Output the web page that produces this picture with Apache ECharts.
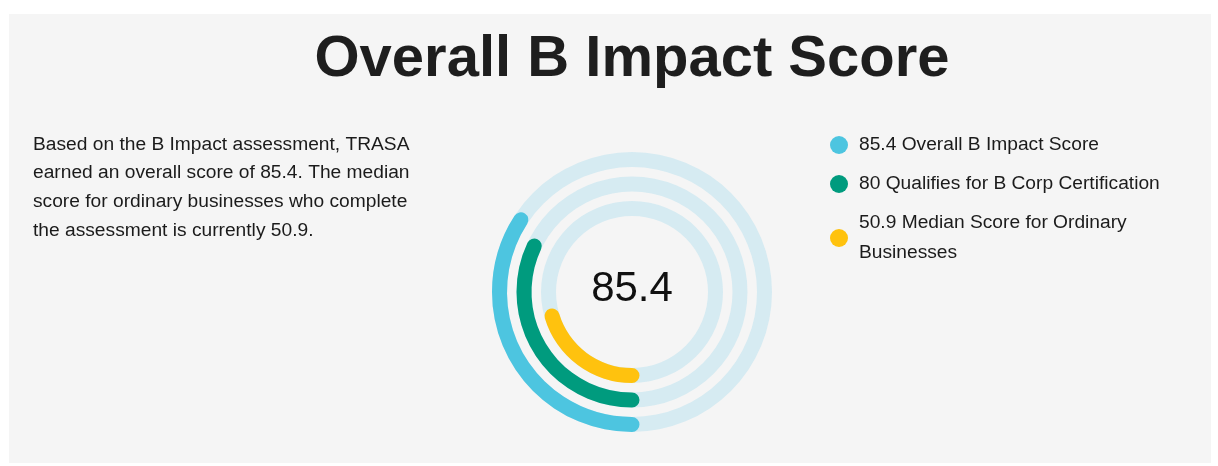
<!DOCTYPE html>
<html>
<head>
<meta charset="utf-8">
<script src="https://cdn.jsdelivr.net/npm/echarts@6/dist/echarts.min.js"></script>
<style>
  html, body { margin: 0; padding: 0; background: #ffffff; }
  #chart { width: 1218px; height: 466px; }
</style>
</head>
<body>
<div id="chart"></div>
<script>
// ---- data ----
const titleText = 'Overall B Impact Score';
const descriptionLines = [
  'Based on the B Impact assessment, TRASA',
  'earned an overall score of 85.4. The median',
  'score for ordinary businesses who complete',
  'the assessment is currently 50.9.'
];
// rings from inner to outer
const categories = ['Median Score for Ordinary Businesses', 'Qualifies for B Corp Certification', 'Overall B Impact Score'];
const scores = [50.9, 80, 85.4];
const colors = ['#ffc20e', '#009b7e', '#4dc5e0'];
const scoreMax = 250;
const centerValue = 85.4;
// legend order (top to bottom) = outer to inner
const legendOrder = [2, 1, 0];

const FONT = '"Liberation Sans", Arial, sans-serif';
const TEXT = '#1b1b1b';

const chart = echarts.init(document.getElementById('chart'), null, { renderer: 'canvas' });

const hiddenAxis = {
  axisLine: { show: false }, axisTick: { show: false },
  axisLabel: { show: false }, splitLine: { show: false }
};

const series = [{
  name: 'track',
  type: 'bar',
  coordinateSystem: 'polar',
  polarIndex: 1,
  data: categories.map(() => scoreMax),
  barWidth: 15,
  z: 1,
  itemStyle: { color: '#d6ebf2' },
  silent: true,
  animation: false
}];
legendOrder.forEach(i => {
  series.push({
    name: scores[i] + ' ' + categories[i],
    type: 'bar',
    coordinateSystem: 'polar',
    polarIndex: 0,
    stack: 'score',
    data: categories.map((c, j) => (j === i ? scores[i] : '-')),
    barWidth: 15,
    roundCap: true,
    z: 3,
    itemStyle: { color: colors[i] },
    animation: false
  });
});

const polarGeom = { center: [632, 292], radius: [71.25, 144.75] };

chart.setOption({
  backgroundColor: '#ffffff',
  animation: false,
  polar: [polarGeom, polarGeom],
  angleAxis: [0, 1].map(k => Object.assign({
    polarIndex: k, min: 0, max: scoreMax, startAngle: 270, clockwise: true
  }, hiddenAxis)),
  radiusAxis: [0, 1].map(k => Object.assign({
    polarIndex: k, type: 'category', data: categories
  }, hiddenAxis)),
  legend: {
    orient: 'vertical',
    left: 825, top: 125,
    icon: 'circle',
    itemWidth: 30, itemHeight: 18, itemGap: 9,
    data: legendOrder.map(i => scores[i] + ' ' + categories[i]),
    textStyle: {
      fontFamily: FONT, fontSize: 19.2, color: TEXT,
      lineHeight: 30, width: 310, overflow: 'break'
    },
    selectedMode: false
  },
  graphic: [
    { type: 'rect', z: -100, silent: true,
      shape: { x: 9, y: 14, width: 1202, height: 449 },
      style: { fill: '#f5f5f5' } },
    { type: 'text', x: 632, y: 59.5, silent: true,
      style: { text: titleText, fontFamily: FONT, fontSize: 58, fontWeight: 'bold',
               fill: '#1e1e1e', textAlign: 'center', textVerticalAlign: 'middle' } },
    { type: 'text', x: 33, y: 130, silent: true,
      style: { text: descriptionLines.join('\n'), fontFamily: FONT, fontSize: 19.2, lineHeight: 28.8,
               fill: TEXT, textAlign: 'left', textVerticalAlign: 'top' } },
    { type: 'text', x: 632, y: 289.5, silent: true, z: 10,
      style: { text: String(centerValue), fontFamily: FONT, fontSize: 42,
               fill: '#111111', textAlign: 'center', textVerticalAlign: 'middle' } }
  ],
  series: series
});
</script>
</body>
</html>
